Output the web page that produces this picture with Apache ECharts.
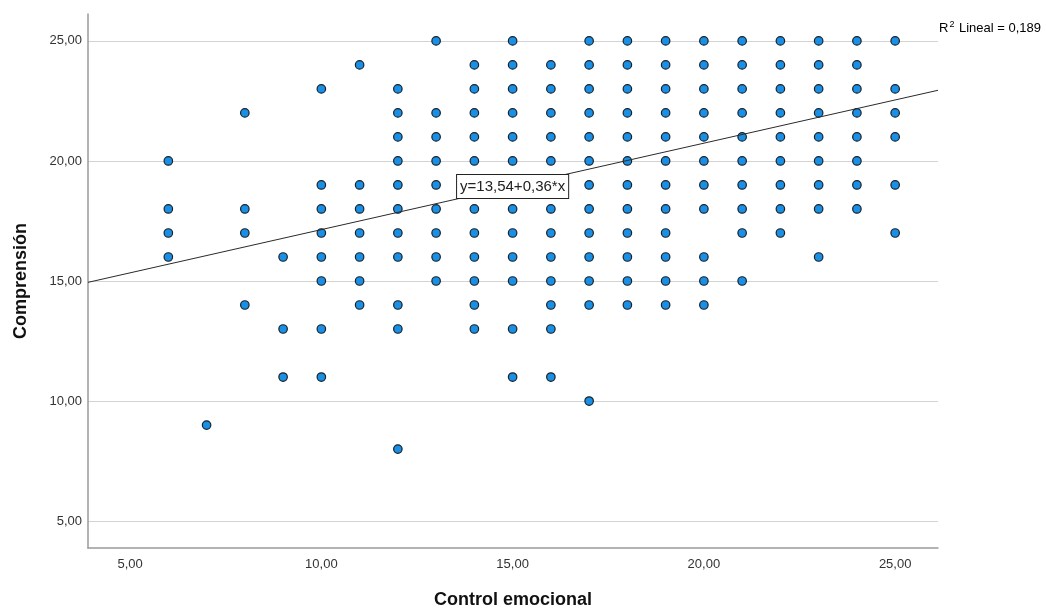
<!DOCTYPE html>
<html>
<head>
<meta charset="utf-8">
<script src="https://cdn.jsdelivr.net/npm/echarts@6/dist/echarts.min.js"></script>
<style>
html,body{margin:0;padding:0;background:#fff;}
#chart{width:1046px;height:609px;}
</style>
</head>
<body>
<div id="chart"></div>
<script>
// ---- Data ----
const xTitle = 'Control emocional';
const yTitle = 'Comprensión';
const xTicks = [5, 10, 15, 20, 25];
const yTicks = [5, 10, 15, 20, 25];
const xRange = [3.9, 26.12];
const yRange = [3.88, 26.12];

// Control emocional values (x) and the Comprensión values (y) observed at each x
const controlEmocional = [6, 7, 8, 9, 10, 11, 12, 13, 14, 15, 16, 17, 18, 19, 20, 21, 22, 23, 24, 25];
const comprensionAtX = [
  [20, 18, 17, 16],                                   // 6
  [9],                                                // 7
  [22, 18, 17, 14],                                   // 8
  [16, 13, 11],                                       // 9
  [23, 19, 18, 17, 16, 15, 13, 11],                   // 10
  [24, 19, 18, 17, 16, 15, 14],                       // 11
  [23, 22, 21, 20, 19, 18, 17, 16, 14, 13, 8],        // 12
  [25, 22, 21, 20, 19, 18, 17, 16, 15],               // 13
  [24, 23, 22, 21, 20, 19, 18, 17, 16, 15, 14, 13],   // 14
  [25, 24, 23, 22, 21, 20, 19, 18, 17, 16, 15, 13, 11], // 15
  [24, 23, 22, 21, 20, 19, 18, 17, 16, 15, 14, 13, 11], // 16
  [25, 24, 23, 22, 21, 20, 19, 18, 17, 16, 15, 14, 10], // 17
  [25, 24, 23, 22, 21, 20, 19, 18, 17, 16, 15, 14],   // 18
  [25, 24, 23, 22, 21, 20, 19, 18, 17, 16, 15, 14],   // 19
  [25, 24, 23, 22, 21, 20, 19, 18, 16, 15, 14],       // 20
  [25, 24, 23, 22, 21, 20, 19, 18, 17, 15],           // 21
  [25, 24, 23, 22, 21, 20, 19, 18, 17],               // 22
  [25, 24, 23, 22, 21, 20, 19, 18, 16],               // 23
  [25, 24, 23, 22, 21, 20, 19, 18],                   // 24
  [25, 23, 22, 21, 19, 17]                            // 25
];

// Linear fit shown in the chart
const fitIntercept = 13.54;
const fitSlope = 0.36;
const fitLabel = 'y=13,54+0,36*x';
const fitLabelX = 15;

// ---- Build ----
const points = [];
controlEmocional.forEach((x, i) => {
  comprensionAtX[i].forEach(y => points.push([x, y]));
});
const fitY = x => fitIntercept + fitSlope * x;
const fmt = v => v.toFixed(2).replace('.', ',');
const FONT = "'Liberation Sans', Arial, sans-serif";

const chart = echarts.init(document.getElementById('chart'), null, {renderer: 'canvas'});
chart.setOption({
  animation: false,
  backgroundColor: '#ffffff',
  textStyle: {fontFamily: FONT},
  grid: {left: 88, right: 108, top: 14, bottom: 61, containLabel: false, outerBoundsMode: 'none'},
  xAxis: {
    type: 'value',
    min: xRange[0], max: xRange[1],
    name: xTitle,
    nameLocation: 'middle',
    nameGap: 43,
    nameTextStyle: {fontSize: 18, fontWeight: 'bold', color: '#111', fontFamily: FONT},
    axisLine: {show: true, lineStyle: {color: '#9a9a9a', width: 1.5}},
    axisTick: {show: false, customValues: xTicks},
    axisLabel: {customValues: xTicks, formatter: v => fmt(v), fontSize: 13, color: '#333', margin: 10, fontFamily: FONT},
    splitLine: {show: false}
  },
  yAxis: {
    type: 'value',
    min: yRange[0], max: yRange[1],
    name: yTitle,
    nameLocation: 'middle',
    nameGap: 58,
    nameRotate: 90,
    nameTextStyle: {fontSize: 18, fontWeight: 'bold', color: '#111', fontFamily: FONT},
    axisLine: {show: true, lineStyle: {color: '#9a9a9a', width: 1.5}},
    axisTick: {show: false, customValues: yTicks},
    axisLabel: {customValues: yTicks, formatter: v => fmt(v), fontSize: 13, color: '#333', margin: 6, fontFamily: FONT},
    splitLine: {show: true, lineStyle: {color: '#d3d3d3', width: 1}}
  },
  series: [
    {
      type: 'scatter',
      data: points,
      symbol: 'circle',
      symbolSize: 8.5,
      itemStyle: {color: '#1a8fe3', borderColor: '#16222c', borderWidth: 1.2, opacity: 1},
      z: 2
    },
    {
      type: 'line',
      data: [[xRange[0], fitY(xRange[0])], [xRange[1], fitY(xRange[1])]],
      symbol: 'none',
      lineStyle: {color: '#2a2a2a', width: 1},
      silent: true,
      z: 3,
      markPoint: {
        symbol: 'rect',
        symbolSize: [1, 1],
        itemStyle: {color: 'transparent'},
        z: 5,
        data: [{coord: [fitLabelX, fitY(fitLabelX)]}],
        label: {
          show: true,
          position: 'inside',
          formatter: fitLabel,
          fontSize: 15,
          lineHeight: 17,
          color: '#222',
          fontFamily: FONT,
          backgroundColor: '#ffffff',
          borderColor: '#222',
          borderWidth: 1,
          padding: [3, 3, 3, 3]
        }
      }
    }
  ],
  graphic: [{
    type: 'text',
    left: 939,
    top: 20,
    style: {
      text: '{a|R}{s|2}{a| Lineal = 0,189}',
      rich: {
        a: {fontSize: 13, color: '#222', fontFamily: FONT, verticalAlign: 'bottom'},
        s: {fontSize: 9, color: '#222', fontFamily: FONT, verticalAlign: 'top', padding: [0, 1, 6, 1]}
      }
    }
  }]
});
</script>
</body>
</html>
